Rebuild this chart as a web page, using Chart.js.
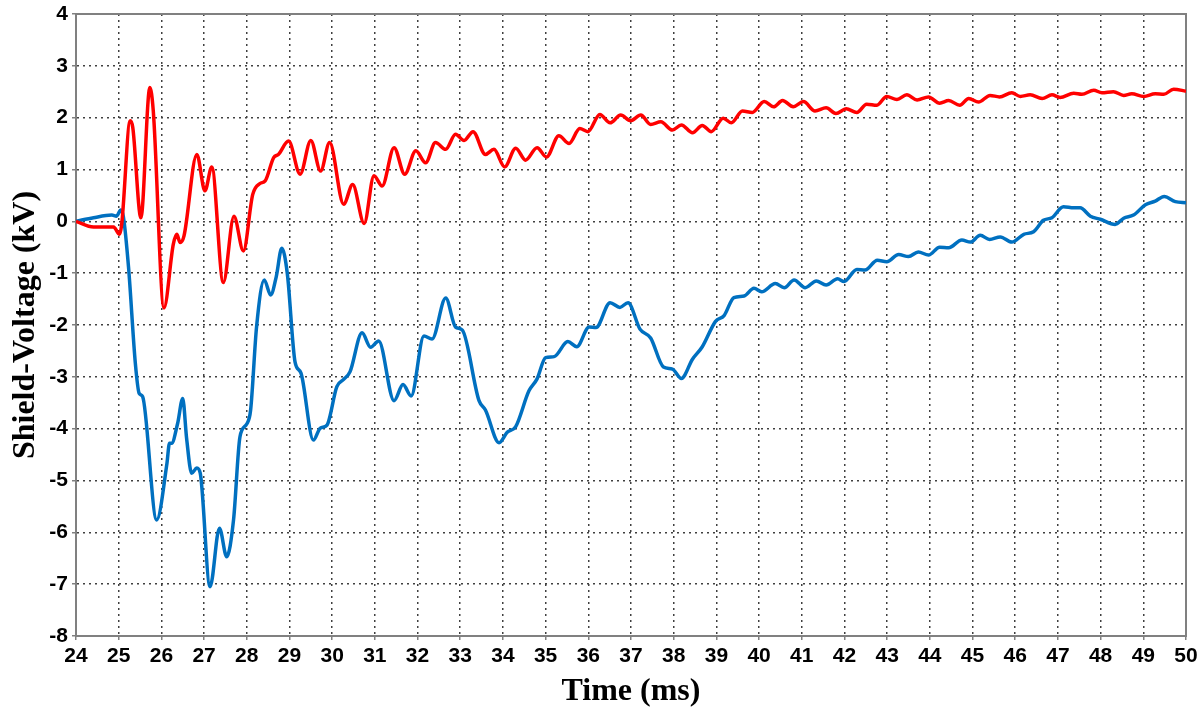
<!DOCTYPE html>
<html>
<head>
<meta charset="utf-8">
<script src="https://cdn.jsdelivr.net/npm/chart.js@4/dist/chart.umd.min.js"></script>
<style>
  html, body { margin: 0; padding: 0; background: #fff; }
  canvas { display: block; }
</style>
</head>
<body>
<canvas id="shieldChart" width="1197" height="709"></canvas>
<script>
// Shield voltage traces, time in ms and voltage in kV
const redTime = [
    24, 24.41, 24.88, 25.02, 25.07, 25.27, 25.33, 25.52, 25.73, 25.81,
    26.06, 26.28, 26.36, 26.44, 26.53, 26.83, 27.02, 27.18, 27.45, 27.70,
    27.92, 28.14, 28.31, 28.43, 28.63, 28.74, 28.98, 29.25, 29.50, 29.73,
    29.94, 30.27, 30.48, 30.75, 30.98, 31.17, 31.45, 31.70, 31.96, 32.19,
    32.42, 32.66, 32.89, 33.09, 33.30, 33.59, 33.79, 34.04, 34.30, 34.53,
    34.80, 35.02, 35.31, 35.55, 35.80, 35.99, 36.27, 36.51, 36.76, 36.99,
    37.23, 37.46, 37.70, 37.97, 38.18, 38.44, 38.67, 38.88, 39.16, 39.35,
    39.61, 39.84, 40.12, 40.34, 40.55, 40.80, 41.04, 41.31, 41.57, 41.80,
    42.04, 42.29, 42.52, 42.76, 42.99, 43.23, 43.46, 43.70, 43.97, 44.23,
    44.44, 44.70, 44.91, 45.14, 45.41, 45.63, 45.92, 46.12, 46.35, 46.63,
    46.86, 47.05, 47.37, 47.56, 47.84, 48.03, 48.30, 48.54, 48.73, 49.01,
    49.28, 49.48, 49.71, 50.00
];
const redVolt = [
    0, -0.11, -0.11, -0.25, -0.06, 1.94, 1.81, 0.07, 2.58, 2.13,
    -1.67, -0.44, -0.25, -0.41, -0.28, 1.29, 0.59, 1.05, -1.18, 0.10,
    -0.57, 0.52, 0.73, 0.78, 1.23, 1.29, 1.55, 0.91, 1.56, 0.97,
    1.52, 0.33, 0.71, -0.04, 0.88, 0.68, 1.42, 0.91, 1.36, 1.13,
    1.52, 1.39, 1.68, 1.56, 1.73, 1.29, 1.39, 1.05, 1.41, 1.18,
    1.42, 1.24, 1.65, 1.50, 1.79, 1.73, 2.06, 1.90, 2.05, 1.94,
    2.05, 1.87, 1.92, 1.76, 1.86, 1.71, 1.85, 1.73, 1.99, 1.90,
    2.13, 2.10, 2.31, 2.21, 2.33, 2.21, 2.31, 2.13, 2.19, 2.08,
    2.17, 2.10, 2.26, 2.24, 2.41, 2.35, 2.44, 2.34, 2.40, 2.28,
    2.33, 2.24, 2.37, 2.30, 2.43, 2.40, 2.48, 2.41, 2.44, 2.37,
    2.44, 2.39, 2.47, 2.45, 2.53, 2.48, 2.50, 2.43, 2.46, 2.41,
    2.46, 2.45, 2.55, 2.51
];

const blueTime = [
    24, 24.41, 24.84, 24.95, 25.05, 25.11, 25.23, 25.39, 25.48, 25.56,
    25.89, 26.13, 26.19, 26.24, 26.38, 26.50, 26.59, 26.71, 26.83, 26.91,
    27.14, 27.36, 27.53, 27.69, 27.84, 28.00, 28.09, 28.23, 28.41, 28.56,
    28.69, 28.82, 28.95, 29.13, 29.27, 29.56, 29.72, 29.88, 30.11, 30.27,
    30.42, 30.70, 30.90, 31.09, 31.45, 31.66, 31.85, 32.15, 32.34, 32.66,
    32.89, 33.05, 33.44, 33.59, 33.91, 34.10, 34.30, 34.61, 34.80, 35.00,
    35.20, 35.52, 35.73, 36.02, 36.18, 36.51, 36.74, 36.93, 37.21, 37.46,
    37.76, 37.97, 38.18, 38.44, 38.67, 38.98, 39.18, 39.41, 39.65, 39.88,
    40.06, 40.38, 40.59, 40.82, 41.08, 41.34, 41.57, 41.84, 41.99, 42.29,
    42.48, 42.77, 42.99, 43.27, 43.50, 43.73, 43.97, 44.23, 44.44, 44.75,
    44.95, 45.18, 45.40, 45.65, 45.92, 46.20, 46.43, 46.66, 46.86, 47.13,
    47.37, 47.52, 47.76, 47.99, 48.34, 48.54, 48.77, 49.05, 49.28, 49.49,
    49.75, 50.00
];
const blueVolt = [
    0, 0.07, 0.12, 0.10, 0.22, 0.09, -0.88, -2.74, -3.32, -3.38,
    -5.76, -4.67, -4.28, -4.28, -3.90, -3.42, -4.18, -4.86, -4.76, -4.86,
    -7.05, -5.92, -6.47, -5.76, -4.16, -3.91, -3.64, -2.03, -1.13, -1.42,
    -1.07, -0.52, -1.01, -2.71, -2.93, -4.22, -3.99, -3.93, -3.19, -3.05,
    -2.90, -2.15, -2.43, -2.31, -3.46, -3.15, -3.37, -2.21, -2.27, -1.48,
    -2.04, -2.10, -3.46, -3.64, -4.27, -4.07, -3.96, -3.27, -3.04, -2.63,
    -2.61, -2.32, -2.42, -2.04, -2.05, -1.57, -1.66, -1.57, -2.08, -2.25,
    -2.81, -2.85, -3.03, -2.66, -2.42, -1.93, -1.82, -1.47, -1.44, -1.29,
    -1.36, -1.20, -1.28, -1.13, -1.28, -1.15, -1.23, -1.11, -1.16, -0.93,
    -0.94, -0.75, -0.78, -0.64, -0.68, -0.59, -0.65, -0.50, -0.51, -0.36,
    -0.40, -0.27, -0.35, -0.30, -0.40, -0.25, -0.20, 0.02, 0.07, 0.28,
    0.26, 0.26, 0.10, 0.04, -0.06, 0.06, 0.12, 0.32, 0.39, 0.48,
    0.38, 0.36
];

const timeRange = [24, 50];
const voltRange = [-8, 4];
const xTitle = 'Time (ms)';
const yTitle = 'Shield-Voltage (kV)';

const tickFont = { family: "Arial, 'Liberation Sans', sans-serif", size: 21, weight: 'bold' };
const titleFont = { family: "'Times New Roman', 'Liberation Serif', serif", size: 32, weight: 'bold', lineHeight: 1 };

function toPoints(xs, ys) {
    return xs.map((x, i) => ({ x: x, y: ys[i] }));
}

// gray frame on all four sides of the plot area
const framePlugin = {
    id: 'frame',
    beforeDatasetsDraw(chart) {
        const { ctx, chartArea } = chart;
        ctx.save();
        ctx.strokeStyle = '#808080';
        ctx.lineWidth = 2;
        ctx.strokeRect(chartArea.left, chartArea.top, chartArea.right - chartArea.left, chartArea.bottom - chartArea.top);
        ctx.restore();
    }
};

function axisGrid() {
    return {
        color: '#404040',
        lineWidth: 1.5,
        borderDash: [2, 4],
        tickLength: 4,
        tickColor: '#808080',
        tickWidth: 1.5,
        tickBorderDash: []
    };
}

const ctx = document.getElementById('shieldChart').getContext('2d');
new Chart(ctx, {
    type: 'line',
    data: {
        datasets: [
            {
                label: 'Red',
                data: toPoints(redTime, redVolt),
                borderColor: '#ff0000',
                borderWidth: 3.5,
                pointRadius: 0,
                cubicInterpolationMode: 'monotone',
                fill: false
            },
            {
                label: 'Blue',
                data: toPoints(blueTime, blueVolt),
                borderColor: '#0070c0',
                borderWidth: 3.5,
                pointRadius: 0,
                cubicInterpolationMode: 'monotone',
                fill: false
            }
        ]
    },
    options: {
        responsive: false,
        animation: false,
        layout: { padding: { top: 14, right: 11, left: 0, bottom: 0 } },
        plugins: {
            legend: { display: false },
            tooltip: { enabled: false }
        },
        scales: {
            x: {
                type: 'linear',
                min: timeRange[0],
                max: timeRange[1],
                ticks: { stepSize: 1, color: '#000', font: tickFont, padding: 4, maxRotation: 0, autoSkip: false },
                grid: axisGrid(),
                border: { color: '#808080', width: 2, dash: [2, 4] },
                title: { display: true, text: xTitle, color: '#000', font: titleFont, padding: { top: 0, bottom: 1 } },
                afterFit(scale) {
                    scale.height = 73;
                    scale.paddingLeft = 0;
                    scale.paddingRight = 0;
                }
            },
            y: {
                min: voltRange[0],
                max: voltRange[1],
                ticks: { stepSize: 1, color: '#000', font: tickFont, padding: 4 },
                grid: axisGrid(),
                border: { color: '#808080', width: 2, dash: [2, 4] },
                title: { display: true, text: yTitle, color: '#000', font: titleFont, padding: { top: 10, bottom: 0 } },
                afterFit(scale) {
                    scale.width = 76;
                    scale.paddingTop = 0;
                    scale.paddingBottom = 0;
                }
            }
        }
    },
    plugins: [framePlugin]
});
</script>
</body>
</html>
